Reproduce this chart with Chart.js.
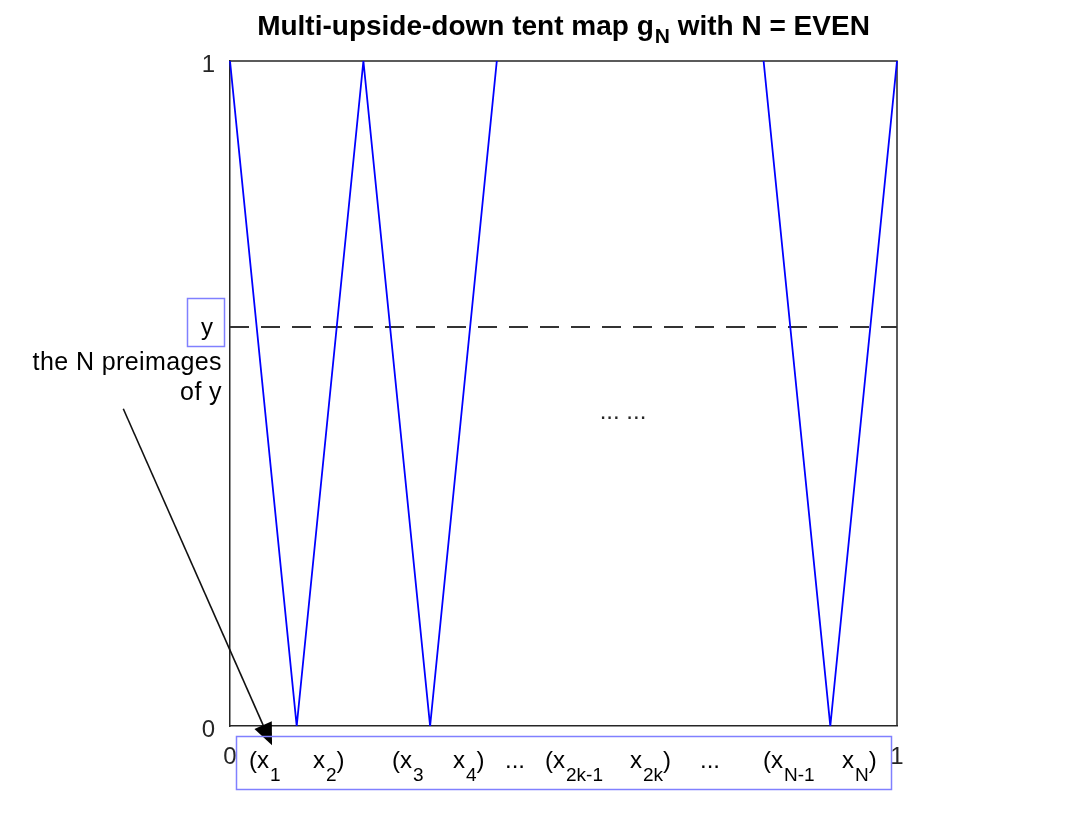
<!DOCTYPE html>
<html>
<head>
<meta charset="utf-8">
<script src="https://cdn.jsdelivr.net/npm/chart.js@4.4.1/dist/chart.umd.min.js"></script>
<style>
  html, body { margin: 0; padding: 0; background: #fff; }
  #wrap { width: 1090px; height: 817px; }
</style>
</head>
<body>
<div id="wrap"><canvas id="c" width="1090" height="817"></canvas></div>
<script>
// tent map branches (left group and right group)
const leftX = [0, 0.1, 0.2, 0.3, 0.4];
const leftY = [1, 0, 1, 0, 1];
const rightX = [0.8, 0.9, 1];
const rightY = [1, 0, 1];

// level y, and axis ticks
const levelY = 0.6;
const xTicks = [0, 1];
const yTicks = [0, 1];

// texts
const titleMain = 'Multi-upside-down tent map g';
const titleSub = 'N';
const titleTail = ' with N = EVEN';
const yBoxText = 'y';
const noteLines = ['the N preimages', 'of y'];
const middleDots = '... ...';
// preimage labels: [text, subscript, tail]
const preimageParts = [
  ['(x', '1', ''], ['x', '2', ')'],
  ['(x', '3', ''], ['x', '4', ')'],
  ['...', '', ''],
  ['(x', '2k-1', ''], ['x', '2k', ')'],
  ['...', '', ''],
  ['(x', 'N-1', ''], ['x', 'N', ')']
];
// left edge of each label group (px)
const preimageLeft = [249, 313, 392, 453, 505, 545, 630, 700, 763, 842];

const FONT = '"Liberation Sans", Arial, Helvetica, sans-serif';
const BOX_BLUE = '#8080ff';

function pts(xs, ys) {
  return xs.map((x, i) => ({ x: x, y: ys[i] }));
}

// draws text + subscript + tail, starting at x, returns end x
function drawSub(ctx, main, sub, tail, x, y, size, subSize, subDrop, weight) {
  ctx.textAlign = 'left';
  ctx.textBaseline = 'alphabetic';
  ctx.font = weight + ' ' + size + 'px ' + FONT;
  ctx.fillText(main, x, y);
  x += ctx.measureText(main).width;
  if (sub) {
    ctx.font = weight + ' ' + subSize + 'px ' + FONT;
    x += 1;
    ctx.fillText(sub, x, y + subDrop);
    x += ctx.measureText(sub).width;
  }
  if (tail) {
    ctx.font = weight + ' ' + size + 'px ' + FONT;
    ctx.fillText(tail, x, y);
    x += ctx.measureText(tail).width;
  }
  return x;
}

function measureSub(ctx, main, sub, tail, size, subSize, weight) {
  ctx.font = weight + ' ' + size + 'px ' + FONT;
  let w = ctx.measureText(main).width + ctx.measureText(tail).width;
  ctx.font = weight + ' ' + subSize + 'px ' + FONT;
  if (sub) w += 1 + ctx.measureText(sub).width;
  return w;
}

const boxPlugin = {
  id: 'axesBox',
  beforeDatasetsDraw(chart) {
    const { ctx, chartArea: a } = chart;
    ctx.save();
    ctx.strokeStyle = '#262626';
    ctx.lineWidth = 1.5;
    ctx.beginPath();
    ctx.moveTo(a.left, a.top);
    ctx.lineTo(a.right, a.top);
    ctx.lineTo(a.right, a.bottom);
    ctx.stroke();
    ctx.restore();
  }
};

const notesPlugin = {
  id: 'notes',
  afterDraw(chart) {
    const { ctx, chartArea: a, scales } = chart;
    ctx.save();

    // title with subscript
    ctx.fillStyle = '#000';
    const tw = measureSub(ctx, titleMain, titleSub, titleTail, 28, 21, 'bold');
    drawSub(ctx, titleMain, titleSub, titleTail, (a.left + a.right) / 2 - tw / 2, 35, 28, 21, 8, 'bold');

    // boxed y label
    ctx.strokeStyle = BOX_BLUE;
    ctx.lineWidth = 1.5;
    ctx.strokeRect(187.5, 298.5, 37, 48);
    ctx.font = '24px ' + FONT;
    ctx.textAlign = 'center';
    ctx.textBaseline = 'alphabetic';
    ctx.fillText(yBoxText, 207, 335);

    // note text
    ctx.textAlign = 'right';
    ctx.font = '25px ' + FONT;
    ctx.letterSpacing = '0.4px';
    ctx.fillText(noteLines[0], 222, 370);
    ctx.fillText(noteLines[1], 222, 400);
    ctx.letterSpacing = '0px';

    // middle dots
    ctx.font = '24px ' + FONT;
    ctx.fillStyle = '#262626';
    ctx.textAlign = 'center';
    ctx.fillText(middleDots, 623, 419);

    // arrow
    const x0 = scales.x.getPixelForValue(-0.16), y0 = scales.y.getPixelForValue(0.477);
    const x1 = scales.x.getPixelForValue(0.063), y1 = scales.y.getPixelForValue(-0.029);
    const ang = Math.atan2(y1 - y0, x1 - x0);
    const hl = 22, hw = 9.5;
    const bx = x1 - hl * Math.cos(ang), by = y1 - hl * Math.sin(ang);
    ctx.strokeStyle = '#111';
    ctx.lineWidth = 1.6;
    ctx.beginPath();
    ctx.moveTo(x0, y0);
    ctx.lineTo(bx, by);
    ctx.stroke();
    ctx.fillStyle = '#000';
    ctx.beginPath();
    ctx.moveTo(x1, y1);
    ctx.lineTo(bx + hw * Math.sin(ang), by - hw * Math.cos(ang));
    ctx.lineTo(bx - hw * Math.sin(ang), by + hw * Math.cos(ang));
    ctx.closePath();
    ctx.fill();

    // preimage box
    ctx.strokeStyle = BOX_BLUE;
    ctx.lineWidth = 1.5;
    ctx.strokeRect(236.5, 736.5, 655, 53);
    ctx.fillStyle = '#000';
    preimageParts.forEach((p, i) => {
      drawSub(ctx, p[0], p[1], p[2], preimageLeft[i], 768, 24, 19, 13, 'normal');
    });

    ctx.restore();
  }
};

const chart = new Chart(document.getElementById('c'), {
  type: 'line',
  data: {
    datasets: [
      {
        data: pts(leftX, leftY),
        borderColor: '#0000ff', borderWidth: 1.8,
        pointRadius: 0, tension: 0, clip: 3
      },
      {
        data: pts(rightX, rightY),
        borderColor: '#0000ff', borderWidth: 1.8,
        pointRadius: 0, tension: 0, clip: 3
      },
      {
        data: pts(xTicks, [levelY, levelY]),
        borderColor: '#333333', borderWidth: 1.8,
        borderDash: [19, 12],
        pointRadius: 0, tension: 0
      }
    ]
  },
  options: {
    responsive: false,
    animation: false,
    events: [],
    layout: { padding: { left: 0, top: 61, right: 193, bottom: 0 } },
    plugins: {
      legend: { display: false },
      tooltip: { enabled: false },
      title: { display: false }
    },
    scales: {
      x: {
        type: 'linear', min: 0, max: 1,
        afterBuildTicks: s => { s.ticks = xTicks.map(v => ({ value: v })); },
        afterFit: s => { s.height = 91; },
        grid: { display: false },
        border: { display: true, color: '#262626', width: 1.5 },
        ticks: { font: { family: FONT, size: 24 }, color: '#262626', padding: 9, maxRotation: 0 }
      },
      y: {
        type: 'linear', min: 0, max: 1,
        afterBuildTicks: s => { s.ticks = yTicks.map(v => ({ value: v })); },
        afterFit: s => { s.width = 230; },
        grid: { display: false },
        border: { display: true, color: '#262626', width: 1.5 },
        ticks: { font: { family: FONT, size: 24 }, color: '#262626', padding: 7, labelOffset: 4 }
      }
    }
  },
  plugins: [boxPlugin, notesPlugin]
});
</script>
</body>
</html>
